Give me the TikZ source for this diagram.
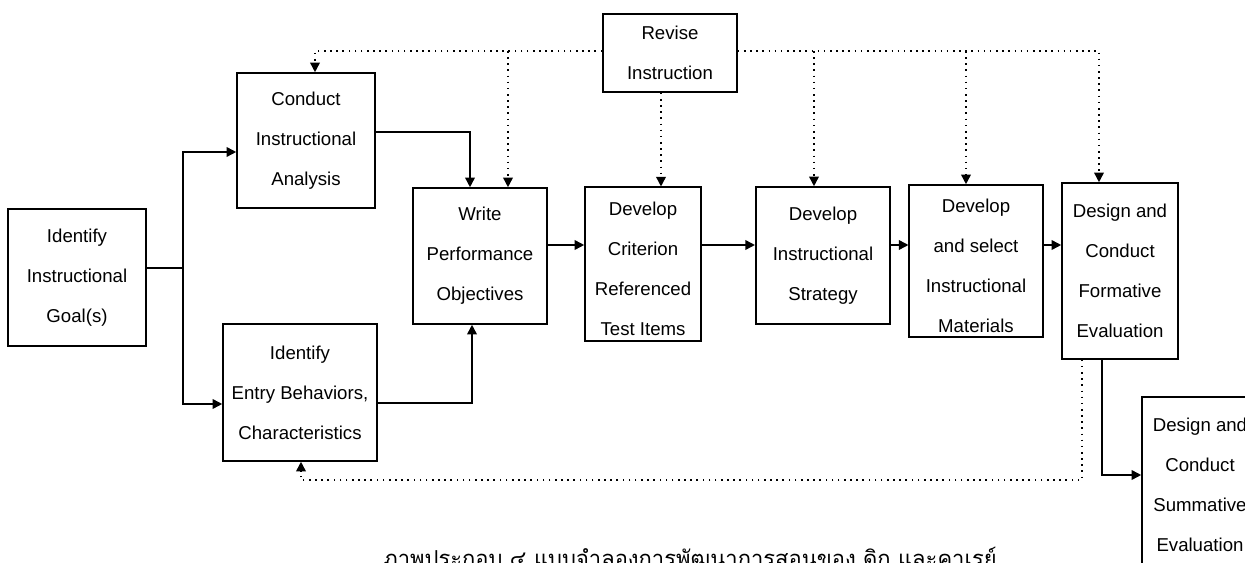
\documentclass[tikz,border=0pt]{standalone}
\usepackage{fontspec}
\setmainfont{Liberation Sans}
\newfontfamily\thaifont[Script=Thai]{Loma}
\usetikzlibrary{arrows.meta}
\newcommand\padtop{\rule{0pt}{13.4pt}}
\begin{document}
\begin{tikzpicture}
    [
        x=0.02cm, y=-0.02cm,
        box/.style={rectangle, draw, line width=0.9pt, align=center,
            inner sep=0pt, font=\fontsize{10.6}{22.7}\selectfont},
        edge/.style={-{Triangle[length=5.5pt,width=5.5pt]}, line width=0.9pt},
        fbedge/.style={-{Triangle[length=5.5pt,width=5.5pt]}, line width=0.9pt,
            dash pattern=on 0.9pt off 2.6pt},
    ]
    \clip (0,0) rectangle (1245,563);

    % boxes
    \node (goal) at (77,277.5) [box, minimum width=2.76cm, minimum height=2.74cm]
        {Identify\\Instructional\\Goal(s)};
    \node (conduct) at (306,140.5) [box, minimum width=2.76cm, minimum height=2.70cm]
        {Conduct\\Instructional\\Analysis};
    \node (entry) at (300,392.5) [box, minimum width=3.08cm, minimum height=2.74cm]
        {Identify\\Entry Behaviors,\\Characteristics};
    \node (write) at (480,256) [box, minimum width=2.68cm, minimum height=2.72cm]
        {Write\\Performance\\Objectives};
    \node (criterion) at (643,264) [box, minimum width=2.32cm, minimum height=3.07cm]
        {\padtop Develop\\Criterion\\Referenced\\Test Items};
    \node (strategy) at (823,255.5) [box, minimum width=2.69cm, minimum height=2.74cm]
        {Develop\\Instructional\\Strategy};
    \node (materials) at (976,261) [box, minimum width=2.67cm, minimum height=3.04cm]
        {\padtop Develop\\and select\\Instructional\\Materials};
    \node (formative) at (1120,271) [box, minimum width=2.32cm, minimum height=3.52cm]
        {Design and\\Conduct\\Formative\\Evaluation};
    \node (summative) at (1200,485) [box, minimum width=2.32cm, minimum height=3.52cm]
        {Design and\\Conduct\\Summative\\Evaluation};
    \node (revise) at (670,53) [box, minimum width=2.68cm, minimum height=1.56cm]
        {Revise\\Instruction};

    % caption
    \node (caption) at (690,567) [anchor=base, font=\thaifont\fontsize{12.5}{14}\selectfont]
        {ภาพประกอบ ๔ แบบจำลองการพัฒนาการสอนของ ดิก และคาเรย์};

    % helper points
    \coordinate (split) at (183,268);
    \coordinate (toconduct) at (0,152);
    \coordinate (toentry) at (0,404);
    \coordinate (cw) at (470,132);
    \coordinate (ew) at (472,403);
    \coordinate (row) at (0,245);
    \coordinate (fs) at (1102,475);
    \coordinate (top) at (0,51);
    \coordinate (fbc) at (315,51);
    \coordinate (fbw) at (508,51);
    \coordinate (fbr) at (661,92);
    \coordinate (fbs) at (814,51);
    \coordinate (fbm) at (966,51);
    \coordinate (fbf) at (1099,51);
    \coordinate (fbb) at (1082,480);
    \coordinate (fbe) at (301,480);

    % main flow
    \draw [line width=0.9pt] (goal.east |- split) -- (split);
    \draw [edge] (split) |- (conduct.west |- toconduct);
    \draw [edge] (split) |- (entry.west |- toentry);
    \draw [edge] (conduct.east |- cw) -| (write.north -| cw);
    \draw [edge] (entry.east |- ew) -| (write.south -| ew);
    \draw [edge] (write.east |- row) -- (criterion.west |- row);
    \draw [edge] (criterion.east |- row) -- (strategy.west |- row);
    \draw [edge] (strategy.east |- row) -- (materials.west |- row);
    \draw [edge] (materials.east |- row) -- (formative.west |- row);
    \draw [edge] (formative.south -| fs) |- (summative.west |- fs);

    % revision feedback
    \draw [fbedge] (revise.west |- top) -| (conduct.north -| fbc);
    \draw [fbedge] (revise.east |- top) -| (formative.north -| fbf);
    \draw [fbedge] (fbw) -- (write.north -| fbw);
    \draw [fbedge] (fbs) -- (strategy.north -| fbs);
    \draw [fbedge] (fbm) -- (materials.north -| fbm);
    \draw [fbedge] (revise.south -| fbr) -- (criterion.north -| fbr);
    \draw [fbedge] (formative.south -| fbb) |- (fbe) -- (entry.south -| fbe);

\end{tikzpicture}
\end{document}
